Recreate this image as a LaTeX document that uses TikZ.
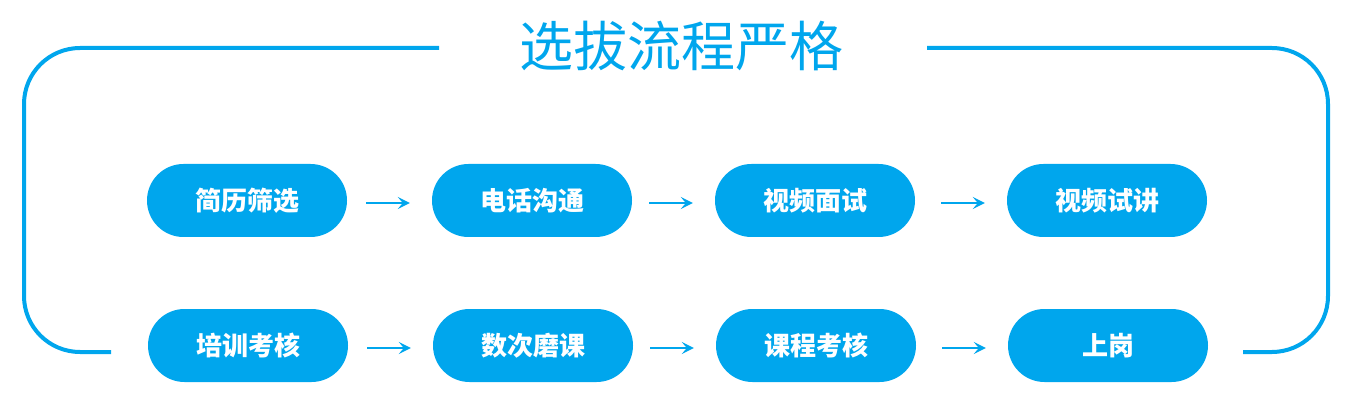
\documentclass[tikz,border=0pt]{standalone}
\usepackage{fontspec}
\newfontfamily\cjk{Noto Sans CJK SC}
\usetikzlibrary{arrows.meta,shapes.misc}
\definecolor{mblue}{RGB}{0,166,237}
\tikzset{
  stepbox/.style={fill=mblue, rounded rectangle, minimum width=200pt, minimum height=73pt, inner sep=0pt, text=white, font=\cjk\bfseries\fontsize{26}{30}\selectfont},
  flow/.style={draw=mblue, line width=2.5pt, -{Stealth[length=12pt,width=12pt,inset=5pt]}},
  frame/.style={draw=mblue, line width=4pt}
}
\begin{document}
\begin{tikzpicture}[x=1pt,y=-1pt]
\useasboundingbox (0,0) rectangle (1358,414);
% frame
\coordinate (tl) at (439,48);
\coordinate (tr) at (927,48);
\coordinate (bl) at (111,352);
\coordinate (br) at (1243,352);
\draw[frame, rounded corners=56pt] (tl) -- (24,48) -- (24,352) -- (bl);
\draw[frame, rounded corners=56pt] (tr) -- (1328,48) -- (1328,352) -- (br);
\node[text=mblue, font=\cjk\fontsize{54}{64}\selectfont, inner sep=0pt] (title) at (681,46) {选拔流程严格};
% row 1
\node[stepbox] (a1) at (247,200.5) {简历筛选};
\node[stepbox] (a2) at (532,200.5) {电话沟通};
\node[stepbox] (a3) at (815,200.5) {视频面试};
\node[stepbox] (a4) at (1107,200.5) {视频试讲};
% row 2
\node[stepbox] (b1) at (248,345.5) {培训考核};
\node[stepbox] (b2) at (533,345.5) {数次磨课};
\node[stepbox] (b3) at (816,345.5) {课程考核};
\node[stepbox] (b4) at (1108,345.5) {上岗};
% arrows
\draw[flow] ([xshift=19pt,yshift=-2.5pt]a1.east) -- ([xshift=-22pt,yshift=-2.5pt]a2.west);
\draw[flow] ([xshift=17pt,yshift=-2.5pt]a2.east) -- ([xshift=-22pt,yshift=-2.5pt]a3.west);
\draw[flow] ([xshift=26pt,yshift=-2.5pt]a3.east) -- ([xshift=-22pt,yshift=-2.5pt]a4.west);
\draw[flow] ([xshift=19pt,yshift=-2.5pt]b1.east) -- ([xshift=-22pt,yshift=-2.5pt]b2.west);
\draw[flow] ([xshift=17pt,yshift=-2.5pt]b2.east) -- ([xshift=-22pt,yshift=-2.5pt]b3.west);
\draw[flow] ([xshift=26pt,yshift=-2.5pt]b3.east) -- ([xshift=-22pt,yshift=-2.5pt]b4.west);
\end{tikzpicture}
\end{document}
